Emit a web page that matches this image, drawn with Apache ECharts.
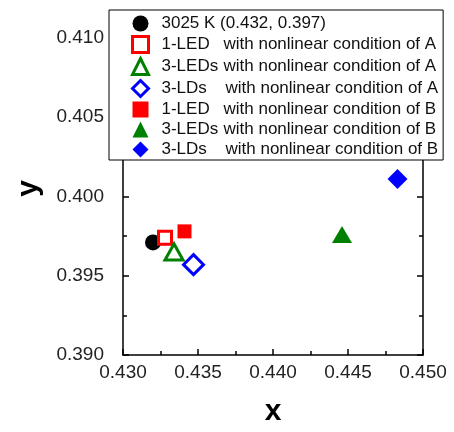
<!DOCTYPE html>
<html lang="en">
<head>
    <meta charset="utf-8">
    <title>CIE chromaticity</title>
    <script src="https://cdn.jsdelivr.net/npm/echarts@6/dist/echarts.min.js"></script>
    <style>
        html, body { margin: 0; padding: 0; background: #fff; }
        #chart { width: 454px; height: 432px; }
    </style>
</head>
<body>
    <div id="chart"></div>
    <script>
        // legend text is split in two parts so the "with ..." column lines up
        var namePrefix = ['3025 K (0.432, 0.397)', '1-LED', '3-LEDs', '3-LDs', '1-LED', '3-LEDs', '3-LDs'];
        var nameSuffix = ['', 'with nonlinear condition of A', 'with nonlinear condition of A', 'with nonlinear condition of A',
            'with nonlinear condition of B', 'with nonlinear condition of B', 'with nonlinear condition of B'];
        var cieX = [0.4320, 0.4328, 0.4334, 0.4347, 0.4341, 0.4446, 0.4483];
        var cieY = [0.3971, 0.3974, 0.3965, 0.3957, 0.3978, 0.3976, 0.4011];
        var xTicks = [0.430, 0.435, 0.440, 0.445, 0.450];
        var yTicks = [0.390, 0.395, 0.400, 0.405, 0.410];

        var symbols = ['circle', 'rect', 'triangle', 'diamond', 'rect', 'triangle', 'diamond'];
        var sizes = [16, 13, [18, 16], 20, 14, [20, 17], 20];
        var colors = ['#000000', '#ff0000', '#008000', '#0000ff', '#ff0000', '#008000', '#0000ff'];
        var hollow = [false, true, true, true, false, false, false];

        var names = namePrefix.map(function (p, i) {
            return nameSuffix[i] ? p + ' ' + nameSuffix[i] : p;
        });

        var series = names.map(function (n, i) {
            return {
                name: n,
                type: 'scatter',
                symbol: symbols[i],
                symbolSize: sizes[i],
                data: [[cieX[i], cieY[i]]],
                itemStyle: hollow[i] ? {
                    color: '#ffffff',
                    borderColor: colors[i],
                    borderWidth: 3,
                    opacity: 1
                } : {
                    color: colors[i],
                    opacity: 1
                },
                z: 3
            };
        });

        var legendData = names.map(function (n, i) {
            return hollow[i]
                ? { name: n, itemStyle: { color: '#ffffff', borderColor: colors[i], borderWidth: 3 } }
                : { name: n };
        });

        var tickFont = { fontFamily: 'Liberation Sans, Arial, sans-serif', fontSize: 19, color: '#222' };
        var axisLine = { show: true, onZero: false, lineStyle: { color: '#000', width: 1.5 } };
        var inTick = { show: true, inside: true, length: 6, lineStyle: { color: '#000', width: 1.5 } };
        var inMinor = { show: true, splitNumber: 2, length: 4, lineStyle: { color: '#000', width: 1.5 } };

        var option = {
            animation: false,
            backgroundColor: '#fff',
            grid: { left: 123, right: 31, top: 38, bottom: 70, containLabel: false },
            legend: {
                orient: 'vertical',
                left: 109,
                top: 10,
                data: legendData,
                padding: [5, 5, 2, 22],
                itemWidth: 16,
                itemHeight: 16,
                itemGap: 3,
                backgroundColor: '#fff',
                borderColor: '#000',
                borderWidth: 1,
                selectedMode: false,
                z: 10,
                formatter: function (name) {
                    var i = names.indexOf(name);
                    if (!nameSuffix[i]) return '{a|' + namePrefix[i] + '}';
                    return '{p' + (namePrefix[i] === '3-LDs' ? 'w' : '') + '|' + namePrefix[i] + '}{a|' + nameSuffix[i] + '}';
                },
                textStyle: {
                    fontFamily: 'Liberation Sans, Arial, sans-serif',
                    fontSize: 17,
                    color: '#111',
                    lineHeight: 16,
                    padding: [0, 0, 0, 8],
                    rich: {
                        a: { fontSize: 17, lineHeight: 16, color: '#111' },
                        p: { fontSize: 17, lineHeight: 16, color: '#111', width: 62 },
                        pw: { fontSize: 17, lineHeight: 16, color: '#111', width: 64 }
                    }
                }
            },
            xAxis: [{
                type: 'value',
                min: xTicks[0],
                max: xTicks[xTicks.length - 1],
                interval: 0.005,
                name: 'x',
                nameLocation: 'middle',
                nameGap: 42,
                nameTextStyle: { fontFamily: 'Liberation Sans, Arial, sans-serif', fontSize: 30, fontWeight: 'bold', color: '#000' },
                axisLine: axisLine,
                axisTick: inTick,
                minorTick: inMinor,
                axisLabel: Object.assign({ margin: 8, formatter: function (v) { return v.toFixed(3); } }, tickFont),
                splitLine: { show: false }
            }, {
                type: 'value',
                position: 'top',
                min: xTicks[0],
                max: xTicks[xTicks.length - 1],
                interval: 0.005,
                axisLine: axisLine,
                axisTick: inTick,
                minorTick: inMinor,
                axisLabel: { show: false },
                splitLine: { show: false }
            }],
            yAxis: [{
                type: 'value',
                min: yTicks[0],
                max: yTicks[yTicks.length - 1],
                interval: 0.005,
                name: 'y',
                nameLocation: 'middle',
                nameGap: 79,
                nameTextStyle: { fontFamily: 'Liberation Sans, Arial, sans-serif', fontSize: 30, fontWeight: 'bold', color: '#000', padding: [0, 0, 0, 16] },
                axisLine: axisLine,
                axisTick: inTick,
                minorTick: inMinor,
                axisLabel: Object.assign({ margin: 19, formatter: function (v) { return v.toFixed(3); } }, tickFont),
                splitLine: { show: false }
            }, {
                type: 'value',
                position: 'right',
                min: yTicks[0],
                max: yTicks[yTicks.length - 1],
                interval: 0.005,
                axisLine: axisLine,
                axisTick: inTick,
                minorTick: inMinor,
                axisLabel: { show: false },
                splitLine: { show: false }
            }],
            series: series
        };

        var chart = echarts.init(document.getElementById('chart'), null, { renderer: 'canvas' });
        chart.setOption(option);
    </script>
</body>
</html>
